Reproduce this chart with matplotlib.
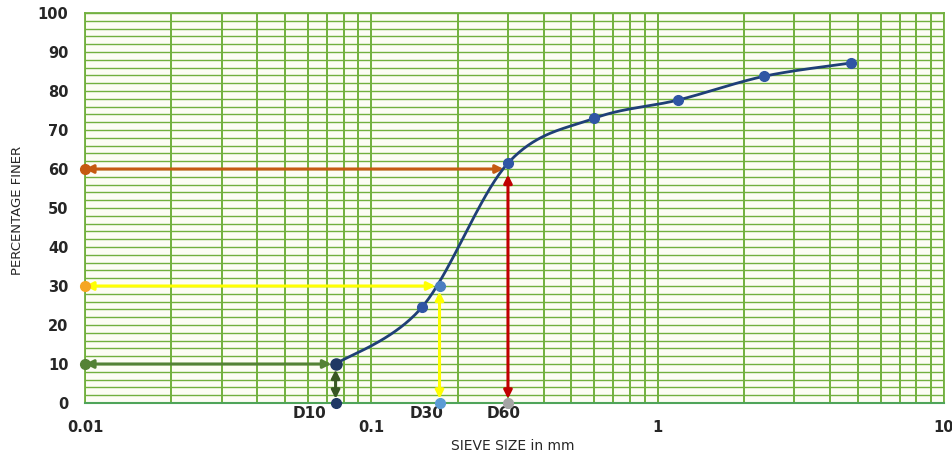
#! /usr/bin/env python3

import numpy as np
import matplotlib
matplotlib.use('Agg')
import matplotlib.pyplot as plt
from matplotlib.ticker import FixedLocator, NullFormatter

# sieve analysis data
sieve_mm = [0.075, 0.15, 0.3, 0.6, 1.18, 2.36, 4.75]
pct_finer = [10.0, 24.5, 61.5, 73.0, 77.7, 83.8, 87.2]

# characteristic diameters
d_names = ['D10', 'D30', 'D60']
d_pct = [10, 30, 60]
d_size = [0.075, 0.173, 0.3]

x_ticks = [0.01, 0.1, 1, 10]
x_ticklabels = ['0.01', '0.1', '1', '10']
y_ticks = list(range(0, 101, 10))

grid_green = '#72B03E'
curve_col = '#1F3F77'
point_col = '#2F55A4'


def excel_smooth(xs, ys, sx, sy, n=40):
    # bezier smoothing like spreadsheet "smoothed line", done in scaled log space
    px = np.log10(xs) * sx
    py = np.array(ys) * sy
    P = np.column_stack([px, py])
    P = np.vstack([P[0], P, P[-1]])
    out = []
    for i in range(1, len(P) - 2):
        p0, p1 = P[i], P[i + 1]
        c1 = p0 + (P[i + 1] - P[i - 1]) / 6.0
        c2 = p1 - (P[i + 2] - P[i]) / 6.0
        t = np.linspace(0, 1, n)[:, None]
        seg = (1 - t)**3 * p0 + 3 * (1 - t)**2 * t * c1 + 3 * (1 - t) * t**2 * c2 + t**3 * p1
        out.append(seg)
    out = np.vstack(out)
    return 10 ** (out[:, 0] / sx), out[:, 1] / sy


fig = plt.figure(figsize=(9.53, 4.55), dpi=100)
ax = fig.add_axes([0.0892, 0.1143, 0.9014, 0.8571])
ax.set_facecolor('#FDFDF4')

ax.set_xscale('log')
ax.set_xlim(0.01, 10)
ax.set_ylim(0, 100)

# grid
minor_x = [m * 10.0**e for e in range(-2, 1) for m in range(2, 10)]
ax.xaxis.set_major_locator(FixedLocator(x_ticks))
ax.xaxis.set_minor_locator(FixedLocator(minor_x))
ax.xaxis.set_minor_formatter(NullFormatter())
ax.set_xticklabels(x_ticklabels)
ax.yaxis.set_major_locator(FixedLocator(y_ticks))
ax.yaxis.set_minor_locator(FixedLocator(list(range(2, 100, 2))))
ax.grid(True, which='both', axis='y', color=grid_green, linewidth=1.0, zorder=0)
ax.grid(True, which='both', axis='x', color=grid_green, linewidth=1.4, zorder=0)
ax.axvline(1, color='#BFBFBF', linewidth=1.4, zorder=0.5)
ax.tick_params(which='both', length=0)
ax.tick_params(axis='x', pad=12)
ax.tick_params(axis='y', pad=12)
for lab in ax.get_xticklabels() + ax.get_yticklabels():
    lab.set_fontweight('bold')
    lab.set_fontsize(10.5)
    lab.set_color('#262626')
for s in ['top', 'right', 'left']:
    ax.spines[s].set_color(grid_green)
    ax.spines[s].set_linewidth(1.3)
ax.spines['bottom'].set_color('#4FA45A')
ax.spines['bottom'].set_linewidth(1.5)

# smooth grading curve
sx, sy = excel_smooth(sieve_mm, pct_finer, 286.0, 3.9)
ax.plot(sx, sy, color=curve_col, linewidth=2.0, zorder=5)

# D lines
h_cols = ['#548235', '#FFFF00', '#C55A11']
v_cols = ['#385723', '#FFFF00', '#C00000']
left_dot = ['#548235', '#F5A623', '#C55A11']
bottom_dot = ['#1F3864', '#5B9BD5', '#A5A5A5']
label_off = [-19, -9, -3]
for i in range(3):
    ax.annotate('', xy=(d_size[i], d_pct[i]), xytext=(0.01, d_pct[i]),
                arrowprops=dict(arrowstyle='<|-|>', color=h_cols[i], lw=2.2,
                                shrinkA=0, shrinkB=3, mutation_scale=12), zorder=4)
    ax.annotate('', xy=(d_size[i], 0), xytext=(d_size[i], d_pct[i]),
                arrowprops=dict(arrowstyle='<|-|>', color=v_cols[i], lw=2.2,
                                shrinkA=4, shrinkB=3, mutation_scale=12), zorder=4)
    ax.plot([0.01], [d_pct[i]], 'o', color=left_dot[i], markersize=7, zorder=6, clip_on=False)
    ax.plot([d_size[i]], [0], 'o', color=bottom_dot[i], markersize=7, zorder=6, clip_on=False)
    ax.annotate(d_names[i], xy=(d_size[i], 0), xytext=(label_off[i], -2),
                textcoords='offset points', ha='center', va='top',
                fontsize=11, fontweight='bold', color='#262626', annotation_clip=False)

ax.plot(sieve_mm[1:], pct_finer[1:], 'o', color=point_col, markersize=7, zorder=7)
ax.plot([d_size[0]], [d_pct[0]], 'o', color='#1F3864', markersize=8, zorder=7)
ax.plot([d_size[1]], [d_pct[1]], 'o', color='#4A7EC0', markersize=7, zorder=7)

fig.text(513 / 953, 1 - 446 / 455, 'SIEVE SIZE in mm', fontsize=10, color='#262626',
         ha='center', va='center')
fig.text(18 / 953, 1 - 210 / 455, 'PERCENTAGE FINER', fontsize=9.5, color='#262626',
         ha='center', va='center', rotation=90)

plt.savefig('out.png', dpi=100)
